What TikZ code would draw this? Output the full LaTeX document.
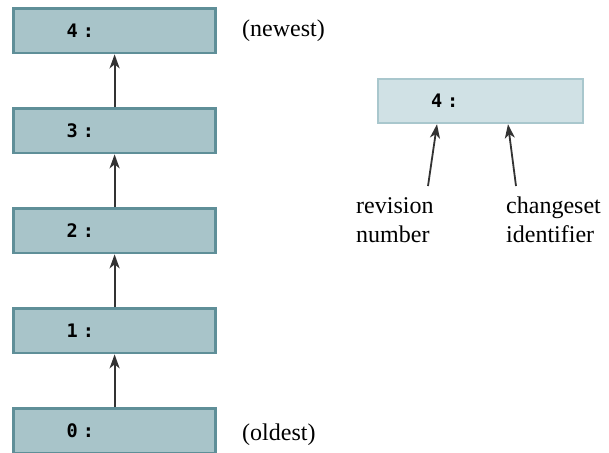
\documentclass[tikz,border=0pt]{standalone}
\usepackage{fontspec}
\setmainfont{Liberation Serif}
\newfontfamily\revmono{DejaVu Sans Mono}
\usetikzlibrary{arrows.meta}
\definecolor{revfill}{HTML}{A8C4C9}
\definecolor{revline}{HTML}{5F8F98}
\definecolor{curfill}{HTML}{D0E1E5}
\definecolor{curline}{HTML}{A9C7CD}
\definecolor{arrowcol}{HTML}{333333}
\newcommand{\rv}[1]{{\revmono\bfseries #1\kern5pt:}}

\begin{document}
\begin{tikzpicture}
  [x=1pt,y=-1pt,
   rev/.style={draw=revline,fill=revfill,line width=2.6pt,
     minimum height=44.5pt,text width=96pt,inner xsep=53pt,inner ysep=0pt,
     align=left,font=\fontsize{18.6}{20}\selectfont},
   cur/.style={rev,draw=curline,fill=curfill,line width=2pt,text width=99pt},
   lbl/.style={inner sep=0pt,align=left,font=\fontsize{24}{29}\selectfont},
   link/.style={draw=arrowcol,line width=1.8pt,
     -{Stealth[length=14pt,width=10pt,inset=4pt]}}]
  \useasboundingbox (0,0) rectangle (609,452);

  \foreach \i in {0,...,4}
    \node[rev] (r\i) at (114.6,430.8-100*\i) {\rv{\i}};

  \foreach \from/\to in {r0/r1,r1/r2,r2/r3,r3/r4}
    \draw[link] (\from.north) -- (\to.south);

  \node[lbl,anchor=base west] (newest) at (242,37) {(newest)};
  \node[lbl,anchor=base west] (oldest) at (242,440) {(oldest)};

  % one revision, close up
  \node[cur] (cur) at (480.5,101) {\rv{4}};
  \node[lbl,anchor=base west] (revlbl) at (356,242) {revision\\number};
  \node[lbl,anchor=base west] (idlbl) at (506,242) {changeset\\identifier};
  \coordinate (revfoot) at (428,186);
  \coordinate (idfoot) at (516,186);
  \draw[link] (revfoot) -- ([xshift=-43.5pt]cur.south);
  \draw[link] (idfoot) -- ([xshift=27.5pt]cur.south);
\end{tikzpicture}
\end{document}
